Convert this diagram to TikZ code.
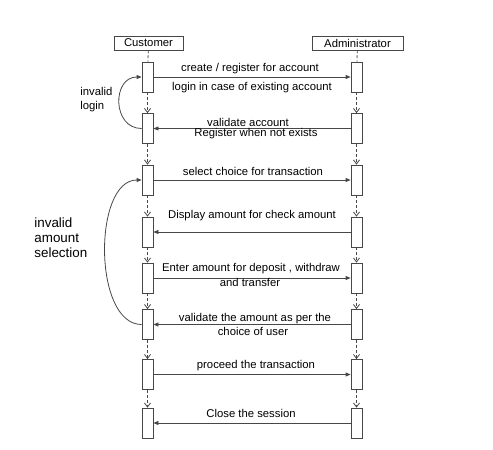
\documentclass[tikz,border=0pt]{standalone}
\usepackage{fontspec}
\setmainfont{Liberation Sans}
\usetikzlibrary{arrows.meta,positioning}
\definecolor{lnColor}{HTML}{474747}
\newcommand{\msgfont}{\fontsize{11.3}{12}\selectfont}
\newcommand{\bigfont}{\fontsize{13.4}{15}\selectfont}
\tikzset{
	actor/.style={draw=lnColor, minimum height=14pt, inner sep=0pt, font=\msgfont},
	act/.style={draw=lnColor, fill=white, minimum width=11pt, minimum height=30pt, inner sep=0pt},
	msg/.style={draw=lnColor, -{Triangle[length=5pt,width=4pt]}},
	life/.style={draw=lnColor, dash pattern=on 3pt off 2pt, -{Straight Barb[length=4pt,width=6pt]}},
	lab/.style={font=\msgfont, inner sep=0pt}
}

\begin{document}
\begin{tikzpicture}[x=1pt, y=-1pt, line width=0.8pt]
	\useasboundingbox (0,0) rectangle (493,450);
	
	\node[actor, minimum width=69pt] (cust) at (148.5,43) {Customer};
	\node[actor, minimum width=91pt] (admin) at (357.5,43) {Administrator};
	
	\foreach \i/\y in {1/77,2/128.5,3/180,4/232,5/278,6/324.5,7/374.5,8/423} {
		\node[act] (c\i) at (147.5,\y) {};
		\node[act] (a\i) at (356.5,\y) {};
	}
	
	\draw[lnColor, dash pattern=on 3pt off 2pt] (cust) -- (c1);
	\draw[lnColor, dash pattern=on 3pt off 2pt] (admin) -- (a1);
	\foreach \i/\j in {1/2,2/3,3/4,4/5,5/6,6/7,7/8} {
		\draw[life] (c\i) -- (c\j);
		\draw[life] (a\i) -- (a\j);
	}
	
	% messages
	\draw[msg] (c1) -- (a1);
	\draw[msg] (a2) -- (c2);
	\draw[msg] (c3) -- (a3);
	\draw[msg] (a4) -- (c4);
	\draw[msg] (c5) -- (a5);
	\draw[msg] (a6) -- (c6);
	\draw[msg] (c7) -- (a7);
	\draw[msg] (a8) -- (c8);
	
	\node[lab] (m1a) at (250,69) {create / register for account};
	\node[lab] (m1b) at (252,88) {login in case of existing account};
	\node[lab] (m2a) at (248,122) {validate account};
	\node[lab] (m2b) at (256,134) {Register when not exists};
	\node[lab] (m3) at (253,171) {select choice for transaction};
	\node[lab] (m4) at (252,216) {Display amount for check amount};
	\node[lab] (m5a) at (251,269) {Enter amount for deposit , withdraw};
	\node[lab] (m5b) at (250,282) {and transfer};
	\node[lab] (m6a) at (255,319) {validate the amount as per the};
	\node[lab] (m6b) at (253,331) {choice of user};
	\node[lab] (m7) at (256,366) {proceed the transaction};
	\node[lab] (m8) at (251,413) {Close the session};
	
	% loops
	\draw[msg] (c2.west) .. controls (112,128.5) and (112,77) .. (c1.west);
	\draw[msg] (c6.west) .. controls (93,324.5) and (93,180) .. (c3.west);
	\node[lab, align=left, anchor=west, font=\fontsize{11.3}{14}\selectfont] (inv1) at (80,100) {invalid\\login};
	\node[lab, align=left, anchor=west, font=\bigfont] (inv2) at (34,238) {invalid\\amount\\selection};
\end{tikzpicture}
\end{document}
